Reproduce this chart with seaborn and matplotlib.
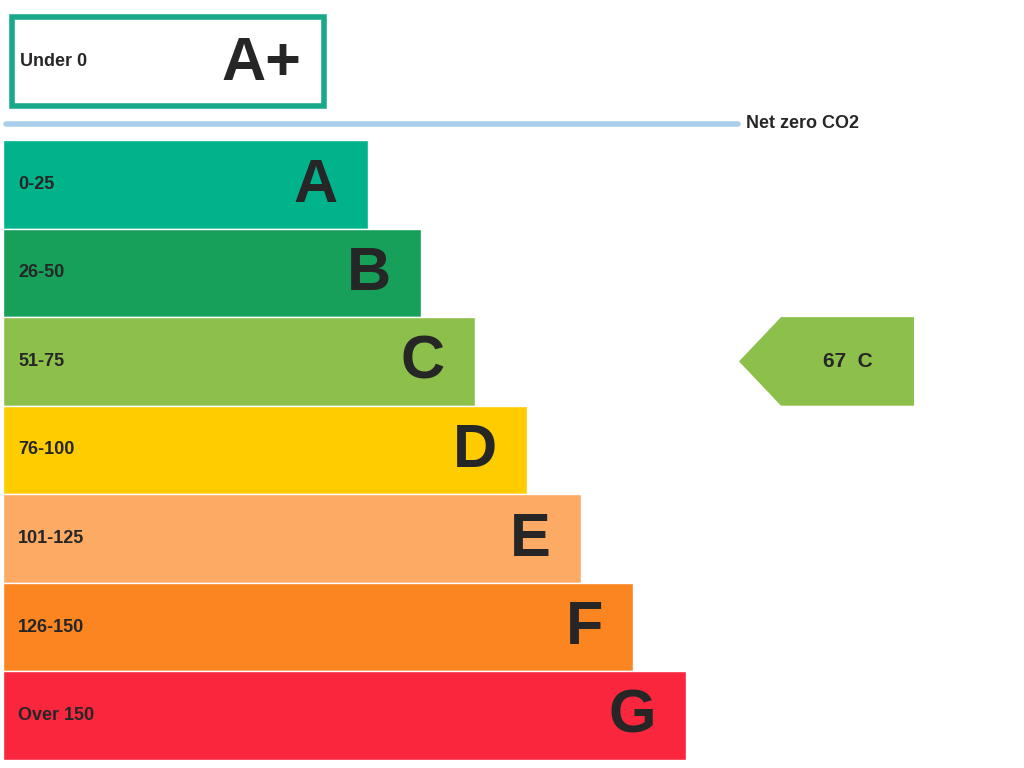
import matplotlib
matplotlib.use("Agg")
import matplotlib.pyplot as plt
import seaborn as sns
import pandas as pd
from matplotlib.patches import Rectangle, Polygon

BANDS = ["A", "B", "C", "D", "E", "F", "G"]
RANGES = ["0-25", "26-50", "51-75", "76-100", "101-125", "126-150", "Over 150"]
LENGTHS = [365, 418, 472, 524, 578, 630, 683]
COLORS = ["#00b38a", "#16a05a", "#8cc04b", "#ffcc00", "#fdaa65", "#fb8521", "#fa263d"]
CURRENT_SCORE = 67
CURRENT_BAND = "C"

PX = 88.57  # pixels per band


def py(y):
    # pixel row -> band units
    return (y - 140) / PX - 0.5


sns.set_theme(style="white")
plt.rcParams["font.family"] = ["Liberation Sans", "DejaVu Sans"]

fig = plt.figure(figsize=(10.24, 7.68), dpi=100)
ax = fig.add_axes([0, 0, 1, 1])

df = pd.DataFrame({"band": BANDS, "length": LENGTHS})
sns.barplot(data=df, x="length", y="band", hue="band", palette=COLORS,
            orient="h", width=1.0, legend=False, saturation=1, ax=ax)

ax.set_xlim(-3, 1021)
ax.set_ylim(py(768), py(0))
ax.axis("off")

for i, (rng, band, length) in enumerate(zip(RANGES, BANDS, LENGTHS)):
    ax.text(15, i, rng, fontsize=13, fontweight="bold", va="center", ha="left")
    ax.text(length - 30, i + 0.02, band, fontsize=44, fontweight="bold",
            va="center", ha="right")

# A+ box
ax.add_patch(Rectangle((9, py(106)), 312, py(17) - py(106), fill=False,
                       edgecolor="#1aa88a", lw=4))
ax.text(17, py(62), "Under 0", fontsize=13, fontweight="bold", va="center")
ax.text(298, py(64), "A+", fontsize=44, fontweight="bold", va="center", ha="right")

# net zero line
ax.plot([3, 735], [py(124), py(124)], color="#a9cfe8", lw=4)
ax.text(743, py(124), "Net zero CO2", fontsize=13, fontweight="bold", va="center")

# current rating arrow
ci = BANDS.index(CURRENT_BAND)
arrow = [(736, ci), (778, ci - 0.5), (911, ci - 0.5), (911, ci + 0.5), (778, ci + 0.5)]
ax.add_patch(Polygon(arrow, closed=True, facecolor=COLORS[ci], edgecolor="none"))
ax.text(845, ci, f"{CURRENT_SCORE}  {CURRENT_BAND}", fontsize=15,
        fontweight="bold", va="center", ha="center")

fig.savefig("out.png", dpi=100)
